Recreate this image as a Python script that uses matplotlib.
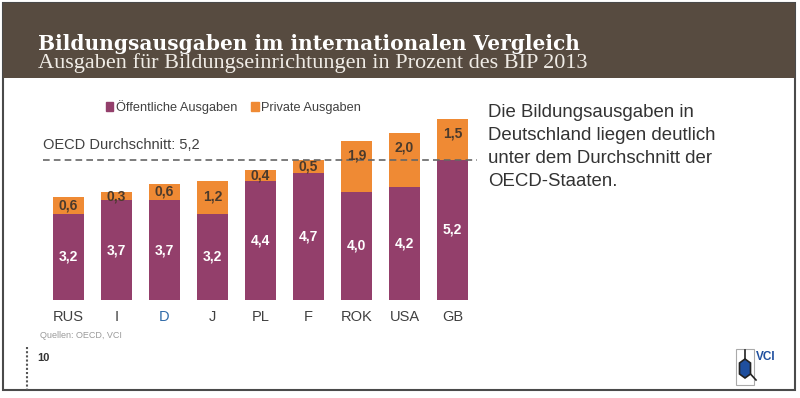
import matplotlib
matplotlib.use('Agg')
import matplotlib.pyplot as plt
from matplotlib.patches import Rectangle, Polygon, Patch
from matplotlib.lines import Line2D

# Daten: Bildungsausgaben in % des BIP 2013
laender = ['RUS', 'I', 'D', 'J', 'PL', 'F', 'ROK', 'USA', 'GB']
oeffentlich = [3.2, 3.7, 3.7, 3.2, 4.4, 4.7, 4.0, 4.2, 5.2]
privat = [0.6, 0.3, 0.6, 1.2, 0.4, 0.5, 1.9, 2.0, 1.5]
oecd_schnitt = 5.2

lila = '#933f6b'
orange = '#ef8a34'
braun = '#574b40'
W, H = 800, 398

plt.rcParams['font.family'] = ['Liberation Sans', 'DejaVu Sans']
fig = plt.figure(figsize=(8, 3.98), dpi=100)


def px(x, y):
    return x / W, 1 - y / H


# Rahmen und Kopfzeile
fig.patches.append(Rectangle(px(3, 390), 792 / W, 387 / H, transform=fig.transFigure,
                             facecolor='white', edgecolor='#4a4a4a', lw=1.5, zorder=-2))
fig.patches.append(Rectangle(px(3, 78), 792 / W, 75 / H, transform=fig.transFigure,
                             facecolor=braun, edgecolor='none', zorder=-1))
fig.text(*px(38, 44), 'Bildungsausgaben im internationalen Vergleich', color='white',
         family='DejaVu Serif', weight='bold', fontsize=14.5, va='center')
fig.text(*px(38, 63), 'Ausgaben für Bildungseinrichtungen in Prozent des BIP 2013', color='#f0ece6',
         family='Liberation Serif', fontsize=16, va='center')

# Diagramm
ax = fig.add_axes([43 / W, (H - 300) / H, 434 / W, 200 / H])
ax.set_zorder(5)
ax.set_xlim(-0.53, 8.51)
ax.set_ylim(0, 200 / 27)
x = range(len(laender))
ax.bar(x, oeffentlich, width=0.65, color=lila, zorder=2)
ax.bar(x, privat, bottom=oeffentlich, width=0.65, color=orange, zorder=2)
ax.axhline(oecd_schnitt, color='#666666', ls=(0, (4, 2.5)), lw=1.2, zorder=3)
ax.text(0, oecd_schnitt + 0.55, 'OECD Durchschnitt: 5,2', fontsize=10.5, color='#404040',
        transform=ax.get_yaxis_transform(), va='center')

for i in x:
    o, p = oeffentlich[i], privat[i]
    ax.text(i, o / 2, f'{o:.1f}'.replace('.', ','), color='white', weight='bold',
            fontsize=10, ha='center', va='center', zorder=4)
    yp = o + p / 2 if p < 1 else o + p - 0.55
    ax.text(i, yp, f'{p:.1f}'.replace('.', ','), color='#4a3a2c', weight='bold',
            fontsize=10, ha='center', va='center', zorder=4)

ax.set_xticks(list(x))
ax.set_xticklabels(laender, fontsize=10.5, color='#404040')
ax.get_xticklabels()[2].set_color('#2f6aa8')
ax.tick_params(axis='x', length=0, pad=7)
ax.set_yticks([])
for s in ax.spines.values():
    s.set_visible(False)
ax.patch.set_alpha(0)

# Legende
handles = [Patch(color=lila, label='Öffentliche Ausgaben'),
           Patch(color=orange, label='Private Ausgaben')]
fig.legend(handles=handles, loc='center left', bbox_to_anchor=px(94, 107), ncol=2,
           frameon=False, fontsize=9.2, handlelength=0.6, handleheight=0.6,
           handletextpad=0.2, columnspacing=1.1, labelcolor='#404040')

# Text rechts
fig.text(*px(488, 104), 'Die Bildungsausgaben in\nDeutschland liegen deutlich\n'
         'unter dem Durchschnitt der\nOECD-Staaten.', fontsize=13.4, color='#333333',
         va='top', linespacing=1.45)

# Fußzeile
fig.text(*px(40, 336), 'Quellen: OECD, VCI', fontsize=6.5, color='#9a9a9a', va='center')
fig.lines.append(Line2D([27 / W, 27 / W], [1 - 347 / H, 1 - 390 / H], transform=fig.transFigure,
                        color='#555555', ls=(0, (1, 1)), lw=1.5))
fig.text(*px(37, 358), '10', fontsize=8, color='#333333', weight='bold', va='center')

# Logo
fig.patches.append(Rectangle(px(736, 385), 18 / W, 36 / H, transform=fig.transFigure,
                             facecolor='white', edgecolor='#aaaaaa', lw=0.8, zorder=2))
hexa = [px(739.5, 363), px(745, 359), px(750.5, 363), px(750.5, 374), px(745, 378), px(739.5, 374)]
fig.patches.append(Polygon(hexa, closed=True, transform=fig.transFigure, facecolor='#1f4f9e',
                           edgecolor='#222222', lw=1.2, zorder=3))
fig.lines.append(Line2D([745 / W, 745 / W], [1 - 350 / H, 1 - 359 / H],
                        transform=fig.transFigure, color='#222222', lw=1.2, zorder=3))
fig.lines.append(Line2D([750.5 / W, 756 / W], [1 - 374 / H, 1 - 380 / H],
                        transform=fig.transFigure, color='#222222', lw=1.2, zorder=3))
fig.text(*px(756, 357), 'VCI', fontsize=8.5, color='#1f4f9e', weight='bold', va='center')

fig.savefig('out.png', dpi=100)
